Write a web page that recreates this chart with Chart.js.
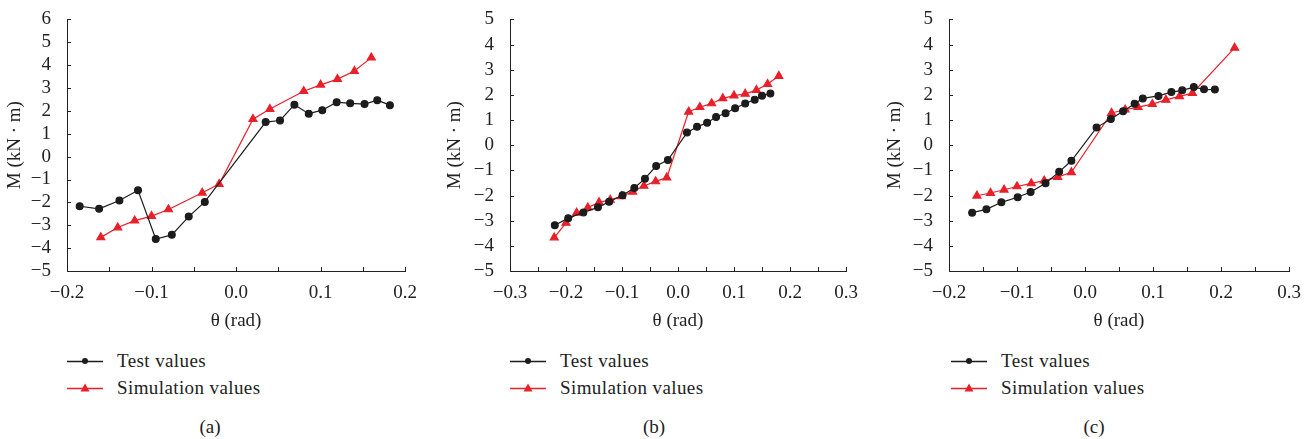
<!DOCTYPE html>
<html>
<head>
<meta charset="utf-8">
<script src="https://cdn.jsdelivr.net/npm/chart.js@4.4.1/dist/chart.umd.min.js"></script>
<style>
    body { margin: 0; background: #fff; width: 1314px; height: 439px; position: relative; overflow: hidden;
           font-family: 'Liberation Serif', 'DejaVu Serif', serif; color: #222; }
    .box { position: absolute; top: 0; height: 340px; }
    .leg { position: absolute; font-size: 19px; line-height: 20px; letter-spacing: 0.4px; white-space: nowrap; }
    .leg svg { position: absolute; left: 0; top: 4px; }
    .leg span { position: absolute; }
    .cap { position: absolute; width: 40px; text-align: center; font-size: 19px; line-height: 20px; }
</style>
</head>
<body>
<div class="box" style="left:0;width:420px"><canvas id="chartA"></canvas></div>
<div class="box" style="left:440px;width:430px"><canvas id="chartB"></canvas></div>
<div class="box" style="left:880px;width:434px"><canvas id="chartC"></canvas></div>
<div id="legends"></div>

<script>
// ---------- data (theta in rad, M in kN·m) ----------
var seriesNames = ['Test values', 'Simulation values'];
var panelLabels = ['(a)', '(b)', '(c)'];

// (a)
var thetaTestA  = [-0.185, -0.162, -0.138, -0.116, -0.095, -0.076, -0.056, -0.037, 0.035, 0.052, 0.069, 0.086, 0.102, 0.119, 0.135, 0.152, 0.167, 0.182];
var momentTestA = [-2.17, -2.28, -1.92, -1.47, -3.60, -3.42, -2.62, -1.98, 1.51, 1.58, 2.27, 1.88, 2.03, 2.38, 2.33, 2.30, 2.47, 2.25];
var thetaSimA   = [-0.16, -0.14, -0.12, -0.10, -0.08, -0.04, -0.02, 0.02, 0.04, 0.08, 0.10, 0.12, 0.14, 0.16];
var momentSimA  = [-3.53, -3.10, -2.80, -2.60, -2.31, -1.58, -1.20, 1.64, 2.08, 2.86, 3.14, 3.39, 3.74, 4.33];

// (b)
var thetaTestB  = [-0.220, -0.196, -0.169, -0.143, -0.123, -0.099, -0.078, -0.059, -0.039, -0.018, 0.016, 0.034, 0.052, 0.068, 0.085, 0.102, 0.120, 0.137, 0.150, 0.165];
var momentTestB = [-3.18, -2.90, -2.67, -2.47, -2.25, -1.99, -1.70, -1.33, -0.83, -0.59, 0.50, 0.73, 0.89, 1.12, 1.27, 1.47, 1.66, 1.81, 1.97, 2.05];
var thetaSimB   = [-0.221, -0.200, -0.181, -0.161, -0.141, -0.121, -0.101, -0.081, -0.061, -0.040, -0.020, 0.019, 0.039, 0.060, 0.080, 0.100, 0.120, 0.140, 0.160, 0.180];
var momentSimB  = [-3.67, -3.09, -2.69, -2.48, -2.27, -2.17, -2.03, -1.85, -1.62, -1.44, -1.29, 1.33, 1.51, 1.66, 1.86, 1.97, 2.04, 2.19, 2.43, 2.75];

// (c)
var thetaTestC  = [-0.166, -0.145, -0.123, -0.099, -0.080, -0.058, -0.038, -0.020, 0.017, 0.038, 0.056, 0.073, 0.085, 0.108, 0.127, 0.143, 0.160, 0.175, 0.191];
var momentTestC = [-2.68, -2.55, -2.27, -2.07, -1.86, -1.51, -1.06, -0.62, 0.70, 1.04, 1.35, 1.65, 1.86, 1.96, 2.11, 2.18, 2.31, 2.22, 2.21];
var thetaSimC   = [-0.159, -0.139, -0.119, -0.100, -0.079, -0.060, -0.040, -0.020, 0.039, 0.059, 0.078, 0.099, 0.119, 0.139, 0.158, 0.220];
var momentSimC  = [-2.01, -1.90, -1.77, -1.64, -1.52, -1.41, -1.27, -1.08, 1.28, 1.41, 1.51, 1.63, 1.80, 1.94, 2.07, 3.87];

// axis ranges
var xRangeA = [-0.2, 0.2], yRangeA = [-5, 6];
var xRangeB = [-0.3, 0.3], yRangeB = [-5, 5];
var xRangeC = [-0.2, 0.3], yRangeC = [-5, 5];

var BLACK = '#1c1c1c';
var RED = '#e8202a';
var FONT = "'Liberation Serif', 'DejaVu Serif', serif";

function toPoints(xs, ys) {
    return xs.map(function (x, i) { return { x: x, y: ys[i] }; });
}

function minus(s) { return String(s).replace('-', '\u2212'); }

// small tick marks pointing into the plot
var innerTicks = {
    id: 'innerTicks',
    afterDraw: function (chart) {
        var ctx = chart.ctx, a = chart.chartArea;
        var xs = chart.scales.x, ys = chart.scales.y;
        ctx.save();
        ctx.strokeStyle = '#222';
        ctx.lineWidth = 1;
        ctx.beginPath();
        xs.ticks.forEach(function (t) {
            var px = Math.round(xs.getPixelForValue(t.value)) + 0.5;
            ctx.moveTo(px, a.bottom);
            ctx.lineTo(px, a.bottom - 4);
        });
        ys.ticks.forEach(function (t) {
            var py = Math.round(ys.getPixelForValue(t.value)) + 0.5;
            ctx.moveTo(a.left, py);
            ctx.lineTo(a.left + 4, py);
        });
        ctx.stroke();
        ctx.restore();
    }
};

function makePanel(id, test, sim, xRange, yRange, yAxisWidth, padRight) {
    var el = document.getElementById(id);
    return new Chart(el, {
        type: 'line',
        data: {
            datasets: [
                { label: seriesNames[0], data: test, borderColor: BLACK, backgroundColor: BLACK, borderWidth: 1.2,
                  pointStyle: 'circle', pointRadius: 3.4, pointHoverRadius: 3.4, tension: 0 },
                { label: seriesNames[1], data: sim, borderColor: RED, backgroundColor: RED, borderWidth: 1.2,
                  pointStyle: 'triangle', pointRadius: 4.6, pointHoverRadius: 4.6, tension: 0 }
            ]
        },
        options: {
            responsive: true, maintainAspectRatio: false, animation: false,
            layout: { padding: { top: 18, right: padRight, bottom: 6, left: 0 } },
            plugins: { legend: { display: false }, tooltip: { enabled: false } },
            scales: {
                x: {
                    type: 'linear', min: xRange[0], max: xRange[1],
                    grid: { display: false },
                    border: { display: true, color: '#222', width: 1 },
                    ticks: {
                        stepSize: 0.05, autoSkip: false, maxRotation: 0, padding: 3, color: '#222',
                        font: { family: FONT, size: 19 },
                        callback: function (v) {
                            var n = Math.round(v * 100);
                            if (n % 10 !== 0) return '';
                            return minus((n / 100).toFixed(1));
                        }
                    },
                    title: { display: true, text: '\u03b8 (rad)', color: '#222', padding: { top: 4, bottom: 2 },
                             font: { family: FONT, size: 19 } },
                    afterFit: function (s) { s.height = 63; }
                },
                y: {
                    min: yRange[0], max: yRange[1],
                    grid: { display: false },
                    border: { display: true, color: '#222', width: 1 },
                    ticks: {
                        stepSize: 1, autoSkip: false, padding: 8, color: '#222',
                        font: { family: FONT, size: 19 },
                        callback: function (v) { return minus(v); }
                    },
                    title: { display: true, text: 'M (kN \u00b7 m)', color: '#222', padding: { top: 4, bottom: 4 },
                             font: { family: FONT, size: 19 } },
                    afterFit: function (s) { s.width = yAxisWidth; }
                }
            }
        },
        plugins: [innerTicks]
    });
}

makePanel('chartA', toPoints(thetaTestA, momentTestA), toPoints(thetaSimA, momentSimA), xRangeA, yRangeA, 67, 14);
makePanel('chartB', toPoints(thetaTestB, momentTestB), toPoints(thetaSimB, momentSimB), xRangeB, yRangeB, 70, 24);
makePanel('chartC', toPoints(thetaTestC, momentTestC), toPoints(thetaSimC, momentSimC), xRangeC, yRangeC, 69, 25);

// ---------- legends + captions (HTML) ----------
var legendLeft = [67, 510, 951];
var captionCenter = [210, 654, 1094];
var holder = document.getElementById('legends');

function markerSvg(color, shape) {
    var m = shape === 'circle'
        ? '<circle cx="18" cy="6" r="3" fill="' + color + '"/>'
        : '<polygon points="18,1.5 22.5,9.5 13.5,9.5" fill="' + color + '"/>';
    return '<svg width="36" height="12"><line x1="0" y1="6.5" x2="36" y2="6.5" stroke="' + color + '" stroke-width="1.4"/>' + m + '</svg>';
}

legendLeft.forEach(function (lx, i) {
    [[BLACK, 'circle', 351], [RED, 'triangle', 378]].forEach(function (row, j) {
        var d = document.createElement('div');
        d.className = 'leg';
        d.style.left = lx + 'px';
        d.style.top = row[2] + 'px';
        d.innerHTML = markerSvg(row[0], row[1]) + '<span style="left:50px;top:0">' + seriesNames[j] + '</span>';
        holder.appendChild(d);
    });
    var c = document.createElement('div');
    c.className = 'cap';
    c.style.left = (captionCenter[i] - 20) + 'px';
    c.style.top = '417px';
    c.textContent = panelLabels[i];
    holder.appendChild(c);
});
</script>
</body>
</html>
